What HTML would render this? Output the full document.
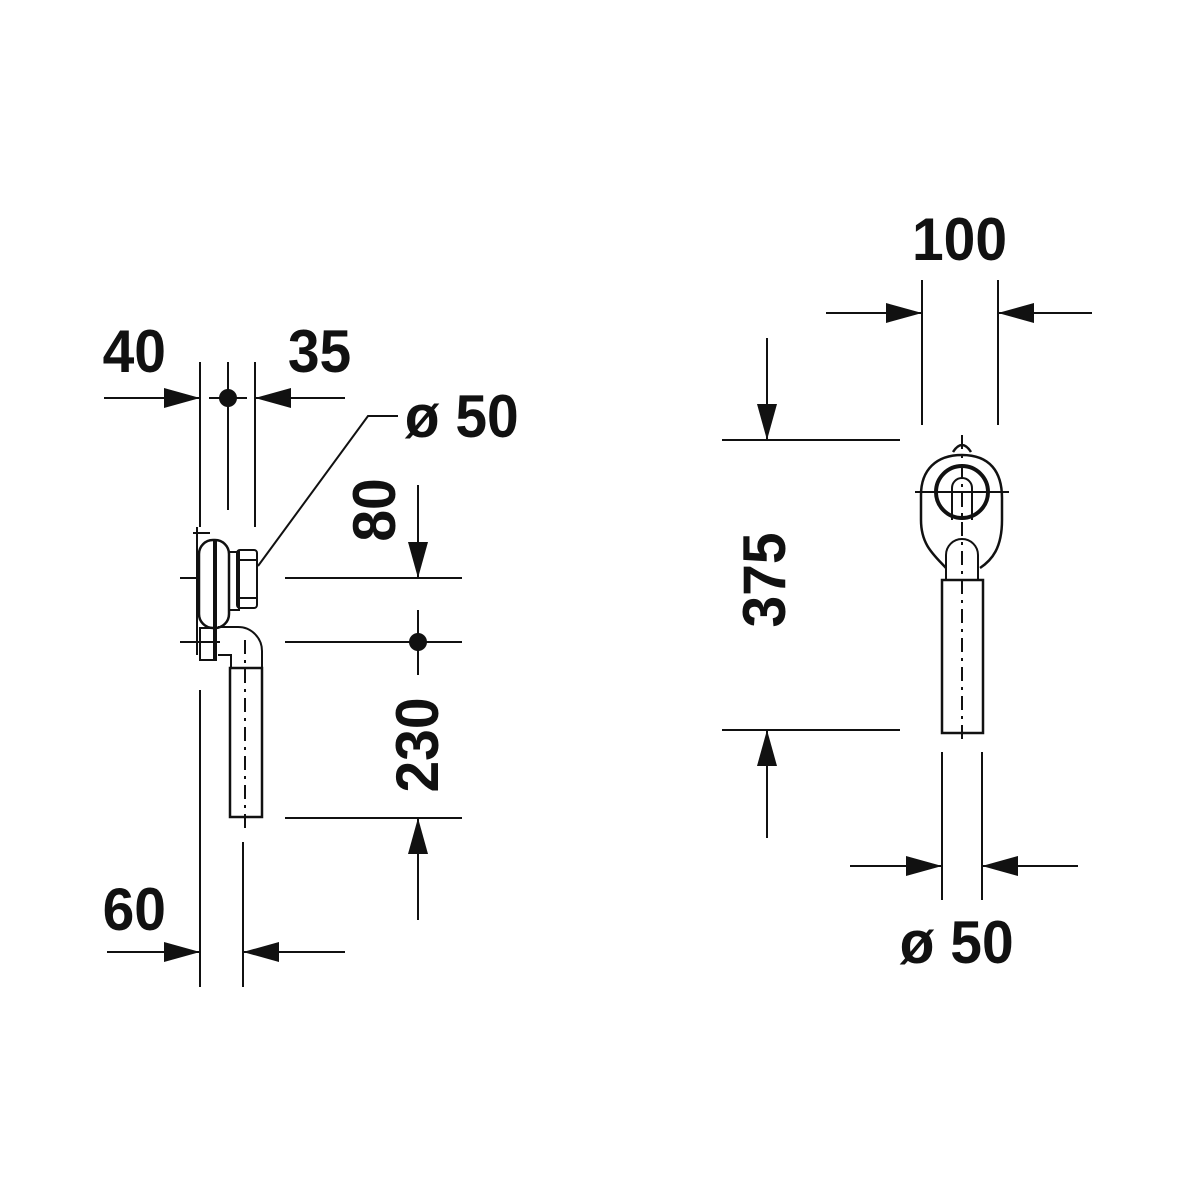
<!DOCTYPE html>
<html><head><style>body{margin:0;background:#fff}svg{display:block}
text{font-family:"Liberation Sans",sans-serif;font-weight:bold;font-size:60px;fill:#111}</style></head>
<body>
<svg width="1200" height="1200" viewBox="0 0 1200 1200" xmlns="http://www.w3.org/2000/svg">
<defs>
<marker id="a" viewBox="0 0 36 20" refX="36" refY="10" markerWidth="36" markerHeight="20" markerUnits="userSpaceOnUse" orient="auto"><path d="M0,0L36,10L0,20z" fill="#111"/></marker>
</defs>
<g stroke="#111" stroke-width="2" fill="none">
<line x1="200" y1="362" x2="200" y2="527"/>
<line x1="228" y1="362" x2="228" y2="510"/>
<line x1="255" y1="362" x2="255" y2="527"/>
<line x1="200" y1="690" x2="200" y2="987"/>
<line x1="243" y1="842" x2="243" y2="987"/>
<line x1="104" y1="398" x2="200" y2="398" marker-end="url(#a)"/>
<line x1="345" y1="398" x2="255" y2="398" marker-end="url(#a)"/>
<line x1="209" y1="398" x2="247" y2="398"/>
<line x1="107" y1="952" x2="200" y2="952" marker-end="url(#a)"/>
<line x1="345" y1="952" x2="243" y2="952" marker-end="url(#a)"/>
<polyline points="258,566 368,416 398,416"/>
<line x1="285" y1="578" x2="462" y2="578"/>
<line x1="285" y1="642" x2="462" y2="642"/>
<line x1="285" y1="818" x2="462" y2="818"/>
<line x1="418" y1="485" x2="418" y2="578" marker-end="url(#a)"/>
<line x1="418" y1="610" x2="418" y2="675"/>
<line x1="418" y1="920" x2="418" y2="818" marker-end="url(#a)"/>
<line x1="193" y1="533" x2="210" y2="533"/>
<line x1="197" y1="527" x2="197" y2="655"/>
<rect x="199" y="540" width="30" height="88" rx="14" stroke-width="2.5"/>
<line x1="215" y1="540" x2="215" y2="660" stroke-width="4"/>
<rect x="200" y="628" width="16" height="32"/>
<rect x="229" y="552" width="10" height="58"/>
<rect x="237" y="550" width="20" height="58" rx="3"/>
<line x1="239" y1="560" x2="257" y2="560"/>
<line x1="239" y1="598" x2="257" y2="598"/>
<path d="M218,627 L238,627 A24,24 0 0 1 262,651 L262,668 L231,668 L231,655 L218,655"/>
<rect x="230" y="668" width="32" height="149" stroke-width="2.5"/>
<line x1="245" y1="640" x2="245" y2="830" stroke-dasharray="14,6,3,6"/>
<line x1="180" y1="578" x2="200" y2="578"/>
<line x1="180" y1="642" x2="220" y2="642"/>
<line x1="922" y1="280" x2="922" y2="425"/>
<line x1="998" y1="280" x2="998" y2="425"/>
<line x1="826" y1="313" x2="922" y2="313" marker-end="url(#a)"/>
<line x1="1092" y1="313" x2="998" y2="313" marker-end="url(#a)"/>
<line x1="722" y1="440" x2="900" y2="440"/>
<line x1="722" y1="730" x2="900" y2="730"/>
<line x1="767" y1="338" x2="767" y2="440" marker-end="url(#a)"/>
<line x1="767" y1="838" x2="767" y2="730" marker-end="url(#a)"/>
<line x1="942" y1="752" x2="942" y2="900"/>
<line x1="982" y1="752" x2="982" y2="900"/>
<line x1="850" y1="866" x2="942" y2="866" marker-end="url(#a)"/>
<line x1="1078" y1="866" x2="982" y2="866" marker-end="url(#a)"/>
<path d="M953,452 Q962,438 971,452" stroke-width="2.5"/>
<path d="M962,455 C990,455 1002,472 1002,498 L1002,520 C1002,548 992,560 980,568 M946,568 C934,555 921,545 921,520 L921,495 C921,470 936,455 962,455" stroke-width="2.5"/>
<circle cx="962" cy="492" r="26" stroke-width="4"/>
<path d="M952,520 L952,488 A10,10 0 0 1 972,488 L972,520"/>
<path d="M946,580 L946,555 A16,16 0 0 1 978,555 L978,580"/>
<rect x="942" y="580" width="41" height="153" stroke-width="2.5"/>
<line x1="915" y1="492" x2="1009" y2="492"/>
<line x1="962" y1="435" x2="962" y2="740" stroke-dasharray="14,6,3,6"/>
</g>
<circle cx="228" cy="398" r="9" fill="#111"/>
<circle cx="418" cy="642" r="9" fill="#111"/>
<g transform="scale(0.95,1)">
<text x="108" y="372">40</text>
<text x="303" y="372">35</text>
<text x="426" y="437">ø 50</text>
<text x="108" y="930">60</text>
<text x="960" y="260">100</text>
<text x="947" y="963">ø 50</text>
</g>
<text transform="translate(395,510) rotate(-90) scale(0.95,1)" text-anchor="middle">80</text>
<text transform="translate(438,745) rotate(-90) scale(0.95,1)" text-anchor="middle">230</text>
<text transform="translate(785,580) rotate(-90) scale(0.95,1)" text-anchor="middle">375</text>
</svg>
</body></html>
